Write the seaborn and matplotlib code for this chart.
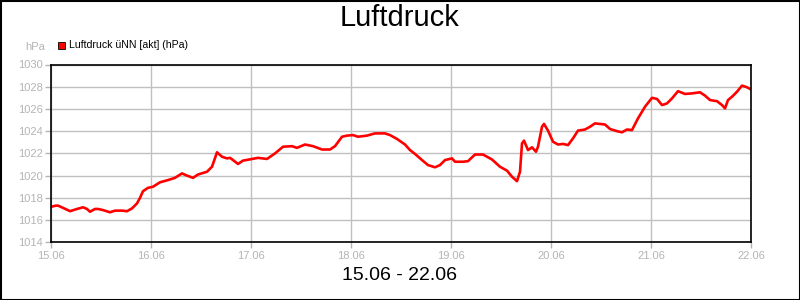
import numpy as np
import pandas as pd
import matplotlib
matplotlib.use("Agg")
import matplotlib.pyplot as plt
from matplotlib.patches import Rectangle
import seaborn as sns

# ---- data (day offset since 15.06 00:00, pressure in hPa) ----
days = [0.00, 0.05, 0.07, 0.12, 0.19, 0.26, 0.32, 0.36, 0.39, 0.44,
        0.47, 0.52, 0.59, 0.64, 0.71, 0.76, 0.81, 0.86, 0.89, 0.92,
        0.97, 1.02, 1.09, 1.17, 1.24, 1.31, 1.36, 1.42, 1.47, 1.56,
        1.61, 1.66, 1.71, 1.76, 1.79, 1.82, 1.87, 1.92, 2.01, 2.07,
        2.16, 2.24, 2.32, 2.41, 2.46, 2.54, 2.62, 2.71, 2.79, 2.84,
        2.91, 2.96, 3.02, 3.07, 3.16, 3.24, 3.34, 3.39, 3.46, 3.54,
        3.59, 3.64, 3.71, 3.77, 3.84, 3.89, 3.94, 4.01, 4.04, 4.12,
        4.17, 4.24, 4.32, 4.41, 4.49, 4.56, 4.61, 4.66, 4.69, 4.71,
        4.73, 4.77, 4.81, 4.85, 4.87, 4.91, 4.93, 4.97, 5.02, 5.07,
        5.12, 5.17, 5.22, 5.27, 5.34, 5.39, 5.44, 5.49, 5.54, 5.59,
        5.66, 5.71, 5.76, 5.81, 5.87, 5.94, 6.01, 6.06, 6.11, 6.16,
        6.21, 6.27, 6.34, 6.41, 6.49, 6.54, 6.59, 6.66, 6.71, 6.74,
        6.77, 6.81, 6.86, 6.91, 6.96, 7.00]
pressure = [1017.2, 1017.3, 1017.3, 1017.1, 1016.8, 1017.0, 1017.15, 1017.0, 1016.75, 1017.0,
            1017.0, 1016.9, 1016.7, 1016.85, 1016.85, 1016.8, 1017.05, 1017.5, 1018.0, 1018.6,
            1018.9, 1019.0, 1019.4, 1019.6, 1019.8, 1020.2, 1020.0, 1019.8, 1020.1, 1020.35,
            1020.8, 1022.1, 1021.7, 1021.55, 1021.6, 1021.4, 1021.05, 1021.35, 1021.5, 1021.6,
            1021.5, 1022.0, 1022.6, 1022.65, 1022.5, 1022.8, 1022.65, 1022.35, 1022.35, 1022.65,
            1023.5, 1023.6, 1023.65, 1023.5, 1023.6, 1023.8, 1023.8, 1023.65, 1023.3, 1022.8,
            1022.3, 1021.95, 1021.4, 1020.95, 1020.75, 1020.95, 1021.4, 1021.55, 1021.25, 1021.25,
            1021.3, 1021.9, 1021.9, 1021.45, 1020.8, 1020.45, 1019.9, 1019.5, 1020.35, 1022.9,
            1023.15, 1022.3, 1022.55, 1022.15, 1022.6, 1024.4, 1024.65, 1024.05, 1023.05, 1022.8,
            1022.85, 1022.75, 1023.35, 1024.05, 1024.15, 1024.4, 1024.7, 1024.65, 1024.6, 1024.2,
            1024.0, 1023.9, 1024.15, 1024.1, 1025.15, 1026.2, 1027.0, 1026.9, 1026.35, 1026.5,
            1026.95, 1027.6, 1027.35, 1027.4, 1027.5, 1027.2, 1026.8, 1026.7, 1026.35, 1026.05,
            1026.8, 1027.1, 1027.55, 1028.1, 1027.95, 1027.75]
x_tick_labels = ["15.06", "16.06", "17.06", "18.06", "19.06", "20.06", "21.06", "22.06"]
y_ticks = [1014, 1016, 1018, 1020, 1022, 1024, 1026, 1028, 1030]
series_name = "Luftdruck üNN [akt] (hPa)"
title = "Luftdruck"
subtitle = "15.06 - 22.06"
unit = "hPa"

sns.set_style("white")
plt.rcParams["font.family"] = ["Liberation Sans", "DejaVu Sans"]

df = pd.DataFrame({"day": days, "p": pressure})

fig = plt.figure(figsize=(8, 3), dpi=100)
ax = fig.add_axes([51 / 800, 1 - 242.3 / 300, 700 / 800, (242.3 - 64.5) / 300])

sns.lineplot(data=df, x="day", y="p", ax=ax, color="#ff0000", linewidth=1.9)

grey = "#b4b4b4"
ax.set_xlim(0, 7)
ax.set_ylim(1014, 1030)
ax.set_xticks(range(len(x_tick_labels)))
ax.set_xticklabels(x_tick_labels)
ax.set_yticks(y_ticks)
ax.set_yticklabels([str(v) for v in y_ticks])
ax.grid(True, color="#c0c0c0", linewidth=1.0)
ax.set_axisbelow(True)
ax.tick_params(axis="both", colors=grey, labelcolor=grey, labelsize=8,
               length=4, width=1, direction="out", pad=2,
               bottom=True, left=True)
for s in ax.spines.values():
    s.set_color("black")
    s.set_linewidth(1.2)
ax.set_xlabel("")
ax.set_ylabel("")

fig.text(0.5, 1 - 18 / 300, title, ha="center", va="center", fontsize=21, color="black")
fig.text(0.5, 1 - 275 / 300, subtitle, ha="center", va="center", fontsize=14, color="black")
fig.text(45 / 800, 1 - 47 / 300, unit, ha="right", va="center", fontsize=8, color=grey)

# legend
fig.patches.append(Rectangle((58 / 800, 1 - 49 / 300), 7 / 800, 7 / 300,
                             transform=fig.transFigure, facecolor="#ff0000",
                             edgecolor="black", linewidth=0.6))
fig.text(69 / 800, 1 - 45 / 300, series_name, ha="left", va="center", fontsize=7.6, color="black")

# figure border
fig.patches.append(Rectangle((0.5 / 800, 0.5 / 300), 799 / 800, 299 / 300,
                             transform=fig.transFigure, facecolor="none",
                             edgecolor="black", linewidth=1.5))

fig.savefig("out.png", dpi=100)
